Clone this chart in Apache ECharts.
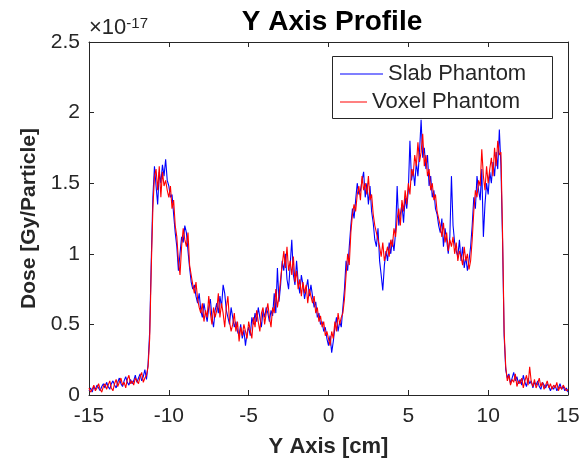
<!DOCTYPE html>
<html><head><meta charset="utf-8">
<script src="https://cdn.jsdelivr.net/npm/echarts@6/dist/echarts.min.js"></script>
<style>html,body{margin:0;padding:0;background:#fff}#c{width:583px;height:463px}</style>
</head><body><div id="c"></div>
<script>
// Sample positions along the Y axis [cm]
const xStart = -15;
const xStep = 0.1;
// Dose values in units of 1e-17 Gy/Particle
const yExponent = -17;
const slabPhantom = [
0.03,0.05,0.02,0.06,0.04,0.07,0.05,0.03,0.06,0.08,
0.05,0.09,0.06,0.04,0.08,0.10,0.07,0.05,0.09,0.12,
0.08,0.06,0.10,0.13,0.09,0.07,0.11,0.08,0.10,0.14,
0.09,0.12,0.15,0.10,0.13,0.18,0.11,0.22,0.45,0.95,
1.40,1.62,1.48,1.35,1.58,1.50,1.63,1.55,1.67,1.52,
1.48,1.40,1.42,1.28,1.15,1.05,0.88,1.00,1.12,1.08,
1.20,1.15,1.02,0.90,0.80,0.75,0.78,0.70,0.65,0.72,
0.60,0.55,0.65,0.58,0.52,0.62,0.68,0.55,0.48,0.60,
0.65,0.58,0.70,0.62,0.78,0.72,0.60,0.55,0.50,0.62,
0.55,0.48,0.52,0.45,0.42,0.50,0.40,0.46,0.35,0.44,
0.48,0.42,0.55,0.50,0.58,0.52,0.62,0.55,0.48,0.60,
0.55,0.62,0.58,0.52,0.60,0.56,0.72,0.58,0.90,0.66,
0.78,0.95,0.88,1.00,0.82,0.75,0.92,1.10,0.85,0.78,
0.95,0.80,0.72,0.85,0.78,0.68,0.75,0.82,0.70,0.78,
0.70,0.62,0.66,0.55,0.58,0.50,0.52,0.45,0.48,0.40,
0.35,0.42,0.30,0.38,0.48,0.55,0.45,0.52,0.48,0.62,
0.75,0.95,0.88,1.05,1.20,1.32,1.25,1.38,1.50,1.42,
1.45,1.52,1.58,1.40,1.50,1.35,1.48,1.30,1.22,1.10,
1.05,1.18,0.95,0.85,0.74,0.92,1.02,0.95,1.08,1.00,
1.10,1.02,1.15,1.48,1.20,1.28,1.35,1.22,1.40,1.32,
1.45,1.80,1.52,1.60,1.48,1.65,1.55,1.72,1.95,1.68,
1.75,1.60,1.70,1.48,1.55,1.40,1.45,1.32,1.28,1.20,
1.15,1.25,1.05,1.18,1.10,1.00,1.12,1.55,1.20,1.08,
1.02,0.98,1.10,0.95,1.05,0.90,0.98,0.88,0.95,1.05,
1.20,1.40,1.32,1.55,1.45,1.38,1.60,1.12,1.35,1.50,
1.42,1.58,1.50,1.65,1.55,1.72,1.60,1.88,1.62,1.10,
0.42,0.18,0.12,0.15,0.08,0.12,0.16,0.10,0.13,0.08,
0.11,0.07,0.14,0.09,0.06,0.12,0.08,0.10,0.05,0.09,
0.07,0.10,0.06,0.04,0.09,0.07,0.05,0.08,0.06,0.03,
0.06,0.04,0.07,0.03,0.05,0.08,0.04,0.06,0.03,0.05,
0.02
];
const voxelPhantom = [
0.05,0.02,0.04,0.07,0.03,0.05,0.08,0.04,0.02,0.06,
0.08,0.04,0.07,0.10,0.05,0.03,0.08,0.11,0.06,0.09,
0.12,0.07,0.09,0.05,0.11,0.14,0.08,0.10,0.07,0.12,
0.10,0.08,0.13,0.16,0.09,0.12,0.14,0.20,0.40,0.90,
1.32,1.55,1.60,1.45,1.62,1.40,1.58,1.48,1.52,1.45,
1.40,1.48,1.32,1.38,1.20,1.12,0.95,0.85,1.05,1.18,
1.10,1.05,1.15,0.92,0.85,0.78,0.72,0.80,0.68,0.62,
0.58,0.65,0.52,0.60,0.55,0.70,0.58,0.50,0.62,0.55,
0.60,0.72,0.55,0.65,0.58,0.48,0.62,0.70,0.52,0.45,
0.50,0.58,0.45,0.52,0.38,0.48,0.42,0.50,0.45,0.40,
0.52,0.46,0.40,0.55,0.48,0.60,0.52,0.45,0.58,0.62,
0.50,0.58,0.65,0.55,0.48,0.62,0.58,0.75,0.62,0.70,
0.82,0.92,1.02,0.90,1.05,0.88,0.95,0.85,0.98,0.80,
0.88,0.75,0.82,0.70,0.80,0.72,0.78,0.65,0.75,0.70,
0.65,0.70,0.58,0.62,0.52,0.56,0.48,0.52,0.42,0.45,
0.40,0.35,0.45,0.40,0.52,0.45,0.58,0.50,0.55,0.58,
0.68,0.85,1.00,0.92,1.15,1.28,1.35,1.30,1.42,1.48,
1.38,1.55,1.45,1.50,1.42,1.55,1.38,1.42,1.28,1.20,
1.15,1.10,1.05,0.98,1.08,0.95,1.00,1.05,0.98,1.10,
1.05,1.18,1.12,1.25,1.32,1.20,1.38,1.30,1.45,1.35,
1.50,1.42,1.60,1.55,1.70,1.62,1.79,1.65,1.72,1.85,
1.62,1.70,1.55,1.60,1.45,1.50,1.38,1.42,1.30,1.25,
1.20,1.12,1.22,1.08,1.15,1.02,1.10,1.05,1.12,1.00,
1.08,0.95,1.02,0.98,0.92,1.05,0.95,1.00,0.89,0.95,
1.10,1.30,1.45,1.40,1.52,1.48,1.74,1.55,1.45,1.62,
1.50,1.60,1.68,1.55,1.75,1.62,1.80,1.70,1.72,1.15,
0.45,0.20,0.10,0.14,0.07,0.11,0.09,0.15,0.06,0.10,
0.08,0.12,0.05,0.10,0.14,0.07,0.20,0.09,0.06,0.11,
0.05,0.08,0.12,0.06,0.09,0.04,0.07,0.10,0.05,0.08,
0.04,0.07,0.05,0.09,0.03,0.06,0.04,0.07,0.05,0.03,
0.04
];
const xTicks = [-15, -10, -5, 0, 5, 10, 15];
const yTicks = [0, 0.5, 1, 1.5, 2, 2.5];
const seriesNames = ['Slab Phantom', 'Voxel Phantom'];

function pairs(vals) {
  return vals.map((v, i) => [+(xStart + i * xStep).toFixed(2), v]);
}

const FONT = '"Liberation Sans", Arial, Helvetica, sans-serif';
const AX = '#262626';
const chart = echarts.init(document.getElementById('c'), null, {renderer: 'canvas'});

const xBase = {
  type: 'value', min: xTicks[0], max: xTicks[xTicks.length - 1],
  interval: xTicks[1] - xTicks[0],
  splitLine: {show: false},
  axisLine: {show: true, onZero: false, lineStyle: {color: AX, width: 1}},
  axisTick: {show: true, inside: true, length: 5, lineStyle: {color: AX}}
};
const yBase = {
  type: 'value', min: yTicks[0], max: yTicks[yTicks.length - 1],
  interval: yTicks[1] - yTicks[0],
  splitLine: {show: false},
  axisLine: {show: true, onZero: false, lineStyle: {color: AX, width: 1}},
  axisTick: {show: true, inside: true, length: 5, lineStyle: {color: AX}}
};

chart.setOption({
  animation: false,
  backgroundColor: '#fff',
  title: {
    text: 'Y Axis Profile', left: 327, top: 3, textAlign: 'center',
    textStyle: {fontFamily: FONT, fontWeight: 'bold', fontSize: 28, color: '#000'}
  },
  grid: {left: 89, right: 15, top: 42, bottom: 64},
  xAxis: [
    Object.assign({}, xBase, {
      position: 'bottom',
      name: 'Y Axis [cm]', nameLocation: 'middle', nameGap: 41,
      nameTextStyle: {fontFamily: FONT, fontWeight: 'bold', fontSize: 22, color: AX},
      axisLabel: {show: true, margin: 11, fontFamily: FONT, fontSize: 21, color: AX}
    }),
    Object.assign({}, xBase, {position: 'top', axisLabel: {show: false}})
  ],
  yAxis: [
    Object.assign({}, yBase, {
      position: 'left',
      name: 'Dose [Gy/Particle]', nameLocation: 'middle', nameGap: 45,
      nameTextStyle: {fontFamily: FONT, fontWeight: 'bold', fontSize: 21, color: AX},
      axisLabel: {show: true, margin: 9, fontFamily: FONT, fontSize: 21, color: AX}
    }),
    Object.assign({}, yBase, {position: 'right', axisLabel: {show: false}})
  ],
  legend: [
    {
      data: [seriesNames[0]], left: 340, top: 63, padding: 0, z: 10,
      icon: 'rect', itemWidth: 43, itemHeight: 1, itemGap: 0,
      textStyle: {fontFamily: FONT, fontSize: 22, color: AX}
    },
    {
      data: [seriesNames[1]], left: 340, top: 91, padding: 0, z: 10,
      icon: 'rect', itemWidth: 27, itemHeight: 1, itemGap: 0,
      textStyle: {fontFamily: FONT, fontSize: 22, color: AX}
    }
  ],
  graphic: [
    {
      type: 'rect', left: 332, top: 56, z: 5,
      shape: {width: 220, height: 62},
      style: {fill: '#fff', stroke: AX, lineWidth: 1}
    },
    {
      type: 'text', left: 89, top: 16, z: 5,
      style: {
        text: '×10{sup|' + yExponent + '}',
        rich: {sup: {fontSize: 15, fontFamily: FONT, fill: AX, verticalAlign: 'top', padding: [0, 0, 9, 0]}},
        fontFamily: FONT, fontSize: 22, fill: AX
      }
    }
  ],
  series: [
    {
      name: seriesNames[0], type: 'line', data: pairs(slabPhantom),
      showSymbol: false, symbol: 'none', lineStyle: {color: '#0000ff', width: 1.1},
      itemStyle: {color: '#0000ff'}, z: 2
    },
    {
      name: seriesNames[1], type: 'line', data: pairs(voxelPhantom),
      showSymbol: false, symbol: 'none', lineStyle: {color: '#ff0000', width: 1.1},
      itemStyle: {color: '#ff0000'}, z: 3
    }
  ]
});
</script>
</body></html>
